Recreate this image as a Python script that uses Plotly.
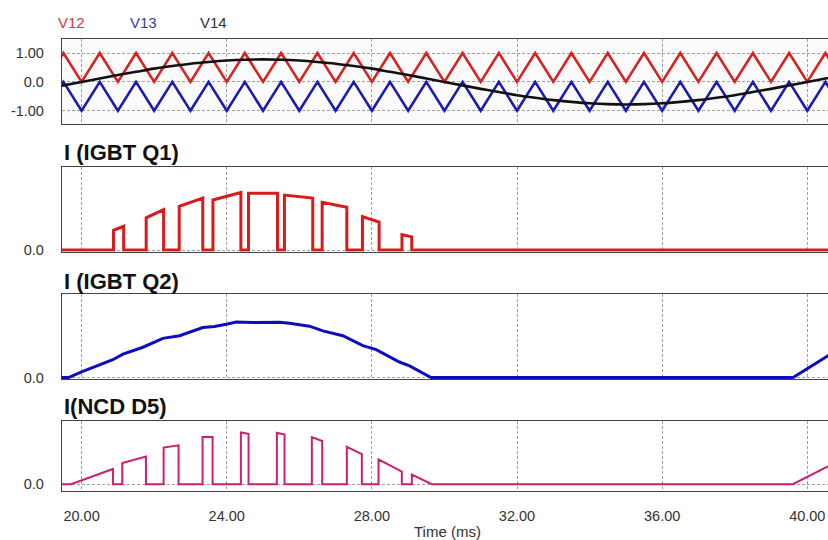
import plotly.graph_objects as go

# ---------------- data ----------------
time_ticks = [20, 24, 28, 32, 36, 40]
time_tick_labels = ["20.00", "24.00", "28.00", "32.00", "36.00", "40.00"]

# carrier vertices (ms)
carrier_t = [19.0, 19.5, 20.0, 20.5, 21.0, 21.5, 22.0, 22.5, 23.0, 23.5, 24.0, 24.5,
             25.0, 25.5, 26.0, 26.5, 27.0, 27.5, 28.0, 28.5, 29.0, 29.5, 30.0, 30.5,
             31.0, 31.5, 32.0, 32.5, 33.0, 33.5, 34.0, 34.5, 35.0, 35.5, 36.0, 36.5,
             37.0, 37.5, 38.0, 38.5, 39.0, 39.5, 40.0, 40.5, 41.0]
v12 = [0, 1, 0, 1, 0, 1, 0, 1, 0, 1, 0, 1, 0, 1, 0, 1, 0, 1, 0, 1, 0, 1, 0, 1,
       0, 1, 0, 1, 0, 1, 0, 1, 0, 1, 0, 1, 0, 1, 0, 1, 0, 1, 0, 1, 0]
v13 = [-1, 0, -1, 0, -1, 0, -1, 0, -1, 0, -1, 0, -1, 0, -1, 0, -1, 0, -1, 0, -1, 0, -1, 0,
       -1, 0, -1, 0, -1, 0, -1, 0, -1, 0, -1, 0, -1, 0, -1, 0, -1, 0, -1, 0, -1]
# reference sine
v14_t = carrier_t
v14 = [-0.24, -0.12, 0.0, 0.12, 0.24, 0.35, 0.46, 0.55, 0.63, 0.69, 0.74, 0.77,
       0.78, 0.77, 0.74, 0.69, 0.63, 0.55, 0.46, 0.35, 0.24, 0.12, 0.0, -0.12,
       -0.24, -0.35, -0.46, -0.55, -0.63, -0.69, -0.74, -0.77, -0.78, -0.77, -0.74, -0.69,
       -0.63, -0.55, -0.46, -0.35, -0.24, -0.12, 0.0, 0.12, 0.24]

# I(IGBT Q1): conduction pulses
q1_on = [20.88, 21.78, 22.69, 23.62, 24.60, 25.59, 26.63, 27.74, 28.83]
q1_off = [21.16, 22.26, 23.34, 24.39, 25.40, 26.37, 27.31, 28.20, 29.10]
q1_i_on = [3.43, 5.60, 7.60, 8.70, 9.88, 9.55, 8.28, 5.83, 2.69]
q1_i_off = [4.12, 7.03, 9.04, 10.0, 9.88, 9.04, 7.43, 4.85, 2.28]

# I(IGBT Q2): smooth half wave
q2_t = [19.0, 19.64, 20.0, 20.86, 21.14, 21.69, 22.24, 22.70, 23.34, 23.66, 23.99,
        24.26, 24.72, 25.46, 25.73, 26.28, 26.65, 27.20, 27.75, 28.12, 28.76, 29.04,
        29.63, 39.61, 40.57, 41.0]
q2_i = [0.0, 0.0, 1.01, 3.20, 4.20, 5.45, 7.05, 7.52, 9.00, 9.18, 9.59,
        10.0, 9.89, 9.95, 9.77, 9.24, 8.40, 7.52, 5.74, 5.03, 2.79, 2.08,
        0.0, 0.0, 3.90, 5.60]

# I(NCD D5): freewheeling segments
d5_start = [19.707, 21.121, 22.260, 23.334, 24.390, 25.382, 26.346, 27.310, 28.183, 29.101, 39.60]
d5_end = [20.864, 21.773, 22.673, 23.610, 24.601, 25.593, 26.631, 27.724, 28.826, 29.652, 41.0]
d5_i_start = [0.0, 4.05, 7.02, 9.04, 9.93, 9.87, 9.04, 7.15, 4.74, 1.84, 0.0]
d5_i_end = [2.91, 5.31, 7.46, 9.04, 9.68, 9.55, 8.29, 5.75, 2.40, 0.0, 4.93]


def pulse_path(starts, ends, h0, h1, t_begin=19.0, t_finish=41.0):
    t, y = [t_begin], [0.0]
    for a, b, ha, hb in zip(starts, ends, h0, h1):
        t += [a, a, b, b]
        y += [0.0, ha, hb, 0.0]
    t.append(t_finish)
    y.append(0.0)
    return t, y


q1_t, q1_i = pulse_path(q1_on, q1_off, q1_i_on, q1_i_off)
d5_t, d5_i = pulse_path(d5_start, d5_end, d5_i_start, d5_i_end)

# ---------------- figure ----------------
W, H = 828, 540
FONT = "Liberation Sans"
GRID = "#a0a0a0"
LINE = "#444444"


def ydom(top, bottom):
    return [1 - bottom / H, 1 - top / H]


fig = go.Figure()
fig.add_trace(go.Scatter(x=carrier_t, y=v12, mode="lines", line=dict(color="#d42424", width=2.6),
                         xaxis="x", yaxis="y", showlegend=False))
fig.add_trace(go.Scatter(x=carrier_t, y=v13, mode="lines", line=dict(color="#1c1cb0", width=2.6),
                         xaxis="x", yaxis="y", showlegend=False))
fig.add_trace(go.Scatter(x=v14_t, y=v14, mode="lines", line=dict(color="#111111", width=2.6, shape="spline"),
                         xaxis="x", yaxis="y", showlegend=False))
fig.add_trace(go.Scatter(x=q1_t, y=q1_i, mode="lines", line=dict(color="#da1a1a", width=3),
                         xaxis="x2", yaxis="y2", showlegend=False))
fig.add_trace(go.Scatter(x=q2_t, y=q2_i, mode="lines", line=dict(color="#0d0dc0", width=3),
                         xaxis="x3", yaxis="y3", showlegend=False))
fig.add_trace(go.Scatter(x=d5_t, y=d5_i, mode="lines", line=dict(color="#cc1f70", width=2),
                         xaxis="x4", yaxis="y4", showlegend=False))

xrange = [19.46, 40.571]
xdom = [62 / W, 1.0]
common_x = dict(range=xrange, domain=xdom, tickvals=time_ticks, ticktext=time_tick_labels,
                showgrid=True, gridcolor=GRID, gridwidth=1, griddash="3px,2px",
                zeroline=False, showline=True, linecolor=LINE, linewidth=1.3, mirror=True,
                ticks="", tickfont=dict(family=FONT, size=14.5, color="#333333"))
common_y = dict(showgrid=True, gridcolor=GRID, gridwidth=1, griddash="3px,2px",
                zeroline=False, showline=True, linecolor=LINE, linewidth=1.3, mirror=False,
                ticks="", ticklabelstandoff=14,
                tickfont=dict(family=FONT, size=14.5, color="#333333"))

fig.update_layout(
    xaxis=dict(common_x, anchor="y", showticklabels=False),
    xaxis2=dict(common_x, anchor="y2", showticklabels=False, matches="x"),
    xaxis3=dict(common_x, anchor="y3", showticklabels=False, matches="x"),
    xaxis4=dict(common_x, anchor="y4", showticklabels=True, matches="x", ticklabelstandoff=12),
    yaxis=dict(common_y, anchor="x", domain=ydom(40, 126), range=[-1.47, 1.47],
               tickvals=[-1, 0, 1], ticktext=["-1.00", "0.0", "1.00"]),
    yaxis2=dict(common_y, anchor="x2", domain=ydom(169, 255), range=[-0.29, 14.46],
                tickvals=[0], ticktext=["0.0"]),
    yaxis3=dict(common_y, anchor="x3", domain=ydom(297.7, 384), range=[-0.27, 15.06],
                tickvals=[0], ticktext=["0.0"]),
    yaxis4=dict(common_y, anchor="x4", domain=ydom(426.7, 497.3), range=[-1.29, 12.1],
                tickvals=[0], ticktext=["0.0"]),
    width=W, height=H,
    margin=dict(l=0, r=0, t=0, b=0),
    paper_bgcolor="white", plot_bgcolor="white",
    showlegend=False,
)

# very light background of the voltage panel
fig.add_shape(type="rect", xref="x domain", yref="y domain", x0=0, x1=1, y0=0, y1=1,
              fillcolor="#fbfbfb", line=dict(width=0), layer="below")

annotations = []
for label, cx, color in [("V12", 71.5, "#d03a3a"), ("V13", 143, "#3a3aa6"), ("V14", 214, "#333333")]:
    annotations.append(dict(text=label, x=cx / W, y=1 - 22.7 / H, xref="paper", yref="paper",
                            xanchor="center", yanchor="middle", showarrow=False,
                            font=dict(family=FONT, size=15, color=color)))
for title, cy in [("I (IGBT Q1)", 155), ("I (IGBT Q2)", 285), ("I(NCD D5)", 412)]:
    annotations.append(dict(text="<b>" + title + "</b>", x=62 / W, y=1 - cy / H,
                            xref="paper", yref="paper", xanchor="left", yanchor="middle",
                            showarrow=False, font=dict(family=FONT, size=22, color="#111111")))
annotations.append(dict(text="Time (ms)", x=448 / W, y=1 - 531.5 / H, xref="paper", yref="paper",
                        xanchor="center", yanchor="middle", showarrow=False, borderpad=0,
                        yshift=-7,
                        font=dict(family=FONT, size=15, color="#333333")))
fig.update_layout(annotations=annotations)

fig.write_html("out.html", config={"displayModeBar": False},
               post_script="document.body.style.margin='0px';")
